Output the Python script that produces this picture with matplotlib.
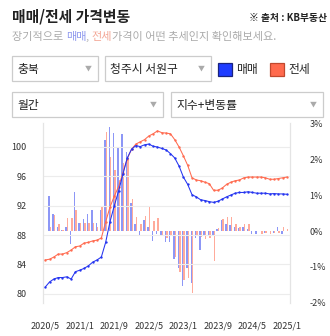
import matplotlib
matplotlib.use('Agg')
import matplotlib.pyplot as plt
from matplotlib.patches import Rectangle
import numpy as np

plt.rcParams['font.family'] = ['Noto Sans CJK KR', 'DejaVu Sans']

# 월별 데이터 (2020/5 ~ 2025/1)
months = [f"{2020 + (4 + k) // 12}/{(4 + k) % 12 + 1}" for k in range(57)]
tick_labels = ['2020/5', '2021/1', '2021/9', '2022/5', '2023/1', '2023/9', '2024/5', '2025/1']

# 매매 지수
sale_index = [80.9, 81.6, 82.0, 82.2, 82.2, 82.3, 82.0, 83.0, 83.2, 83.45,
              83.8, 84.3, 84.6, 85.0, 87.0, 89.8, 92.0, 94.0, 96.3, 98.5,
              99.7, 100.2, 100.05, 100.3, 100.4, 100.1, 100.0, 99.8, 99.6, 99.1,
              98.5, 97.4, 95.9, 94.9, 93.5, 93.2, 92.8, 92.7, 92.55, 92.45,
              92.6, 92.9, 93.2, 93.45, 93.7, 93.8, 93.8, 93.9, 93.8, 93.7,
              93.7, 93.7, 93.6, 93.65, 93.6, 93.6, 93.55]
# 전세 지수
rent_index = [84.6, 84.7, 85.0, 85.4, 85.4, 85.6, 85.95, 86.4, 86.5, 86.9,
              87.0, 87.2, 87.3, 87.6, 89.8, 91.8, 93.3, 94.6, 96.5, 98.4,
              99.7, 100.4, 100.7, 101.0, 101.5, 101.8, 102.2, 101.95, 101.9, 101.8,
              101.0, 100.0, 98.8, 97.5, 95.8, 95.5, 95.4, 95.2, 95.0, 94.1,
              94.1, 94.4, 94.9, 95.2, 95.4, 95.5, 95.8, 95.9, 95.9, 95.9,
              95.9, 95.8, 95.6, 95.6, 95.7, 95.8, 95.9]
# 매매 변동률 (%)
sale_change = [0.0, 0.98, 0.47, 0.12, 0.02, 0.12, -0.35, 1.10, 0.23, 0.35,
               0.47, 0.59, 0.23, 0.59, 2.54, 2.91, 2.75, 2.34, 2.71, 2.2,
               0.79, 0.19, -0.1, 0.31, 0.1, -0.28, -0.09, -0.1, -0.3, -0.3,
               -0.78, -1.02, -1.53, -1.04, -1.46, -0.2, -0.53, -0.11, -0.13, -0.1,
               0.05, 0.31, 0.21, 0.17, 0.10, 0.08, 0.10, 0.05, -0.07, -0.07,
               0.0, -0.05, 0.0, -0.04, 0.10, -0.08, 0.0]
# 전세 변동률 (%)
rent_change = [0.0, 0.12, 0.45, 0.21, 0.03, 0.36, 0.36, 0.59, 0.23, 0.23,
               0.23, 0.23, 0.12, 0.68, 2.77, 2.07, 1.70, 1.42, 1.9, 2.03,
               0.89, 0.40, 0.19, 0.42, 0.68, 0.29, 0.37, -0.15, -0.19, -0.1,
               -0.72, -1.14, -1.37, -1.30, -1.72, -0.11, -0.16, -0.22, -0.2, -0.84,
               0.08, 0.35, 0.40, 0.40, 0.2, 0.1, 0.2, 0.2, 0.0, 0.0,
               -0.07, -0.05, -0.07, -0.06, -0.05, 0.1, 0.05]

W, H = 330, 336
fig = plt.figure(figsize=(W / 100, H / 100), dpi=100)
fig.patch.set_facecolor('white')

# 차트 영역 (막대는 오른쪽 축, 선은 왼쪽 축)
ax = fig.add_axes([43.5 / W, (H - 303) / H, (290 - 43.5) / W, (303 - 123) / H])
x = np.arange(len(months))
ax.bar(x - 0.17, sale_change, width=0.34, color='#8d97f6', zorder=2)
ax.bar(x + 0.17, rent_change, width=0.34, color='#ffab9b', zorder=2)
ax.set_ylim(-2.01, 3.02)
ax.set_xlim(-0.4, 56.7)

ax2 = ax.twinx()
ax2.plot(x, rent_index, color='#ff6b50', lw=0.75, marker='.', ms=1.4, zorder=3)
ax2.plot(x, sale_index, color='#2434f0', lw=0.75, marker='.', ms=1.4, zorder=3)
ax2.set_ylim(78.73, 103.27)

# 축 방향 바꾸기: 지수는 왼쪽, 변동률은 오른쪽
ax.yaxis.tick_right()
ax2.yaxis.tick_left()
ax.set_yticks([-2, -1, 0, 1, 2, 3])
ax.set_yticklabels(['-2%', '-1%', '0%', '1%', '2%', '3%'])
ax.tick_params(axis='y', length=0, pad=14, labelsize=6.5, labelcolor='#333333')
ax2.set_yticks([80, 84, 88, 92, 96, 100])
ax2.tick_params(axis='y', length=0, pad=12, labelsize=6.5, labelcolor='#333333')
ax2.grid(axis='y', color='#ececec', lw=0.8)

tick_pos = [months.index(t) for t in tick_labels]
ax.set_xticks(tick_pos)
ax.set_xticklabels(tick_labels)
ax.tick_params(axis='x', length=0, pad=13, labelsize=6.5, labelcolor='#333333')

for a in (ax, ax2):
    a.spines['top'].set_visible(False)
    a.spines['bottom'].set_visible(False)
    a.spines['left'].set_color('#e4e4e4')
    a.spines['right'].set_color('#e4e4e4')
    a.patch.set_visible(False)

# 위쪽 제목/선택 상자 (픽셀 좌표)
ov = fig.add_axes([0, 0, 1, 1], zorder=-1)
ov.set_xlim(0, W)
ov.set_ylim(H, 0)
ov.axis('off')

ov.text(12, 16, '매매/전세 가격변동', fontsize=10.7, fontweight='bold', color='#222222', va='center')
ov.text(327, 18, '※ 출처 : KB부동산', fontsize=7, fontweight='bold', color='#222222', va='center', ha='right')

# 부제목 (매매/전세 색 강조)
fig.canvas.draw()
renderer = fig.canvas.get_renderer()
cur = 12
for piece, col in [('장기적으로 ', '#aaaaaa'), ('매매', '#8f99ee'), (', ', '#aaaaaa'),
                   ('전세', '#f3a594'), ('가격이 어떤 추세인지 확인해보세요.', '#aaaaaa')]:
    t = ov.text(cur, 37, piece, fontsize=8, color=col, va='center')
    bb = t.get_window_extent(renderer)
    cur += bb.width

boxes = [(12, 56, 86, 25, '충북'), (105, 56, 106, 25, '청주시 서원구'),
         (12, 92, 151, 25, '월간'), (171, 92, 152, 25, '지수+변동률')]
for bx, by, bw, bh, label in boxes:
    ov.add_patch(Rectangle((bx, by), bw, bh, facecolor='white', edgecolor='#cccccc', lw=0.9))
    ov.text(bx + 5, by + bh / 2 + 0.5, label, fontsize=8.5, color='#222222', va='center')
    ov.text(bx + bw - 10, by + bh / 2, '▼', fontsize=5, color='#aaaaaa', va='center', ha='center')

# 범례
ov.add_patch(Rectangle((217.5, 63), 14, 13, facecolor='#1f3cff', edgecolor='#1a237e', lw=0.9))
ov.text(236, 69.5, '매매', fontsize=8.5, color='#222222', va='center')
ov.add_patch(Rectangle((269.5, 63), 14, 13, facecolor='#ff6a4d', edgecolor='#c0482e', lw=0.9))
ov.text(288, 69.5, '전세', fontsize=8.5, color='#222222', va='center')

fig.savefig('out.png', dpi=100)
